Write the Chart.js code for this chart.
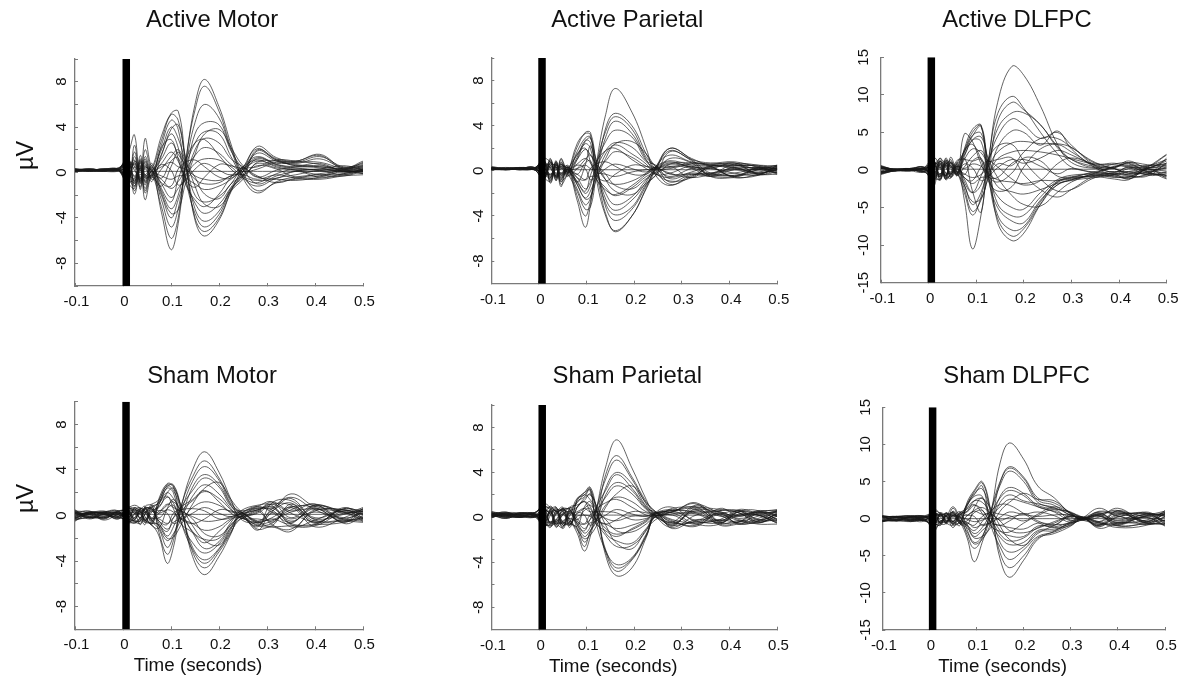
<!DOCTYPE html>
<html>
<head>
<meta charset="utf-8">
<title>TMS evoked potentials</title>
<script src="https://cdn.jsdelivr.net/npm/chart.js@4/dist/chart.umd.min.js"></script>
<style>
  html, body { margin: 0; padding: 0; background: #fff; overflow: hidden; }
  canvas { position: absolute; }
</style>
</head>
<body>
<script>
// Time points (seconds) per panel, denser where the waves turn
var activeMotorTimes = [-0.1,-0.07,-0.04,-0.01,.01,.024,.036,.046,.06,.08,.1,.115,.13,.15,.17,.2,.225,.25,.28,.32,.36,.41,.46,.5];
var activeParietalTimes = [-0.1,-0.07,-0.04,-0.01,.01,.024,.036,.046,.06,.08,.097,.108,.12,.14,.16,.195,.225,.245,.275,.32,.36,.41,.46,.5];
var activeDlpfcTimes = [-0.1,-0.07,-0.04,-0.01,.01,.024,.036,.046,.06,.075,.092,.11,.125,.145,.175,.2,.235,.27,.3,.35,.39,.42,.46,.5];
var shamMotorTimes = [-0.1,-0.07,-0.04,-0.01,.01,.024,.036,.046,.06,.075,.092,.105,.12,.145,.17,.2,.225,.245,.28,.31,.35,.4,.46,.5];
var shamParietalTimes = [-0.1,-0.07,-0.04,-0.01,.01,.024,.036,.05,.065,.08,.095,.107,.12,.14,.163,.195,.225,.245,.28,.33,.38,.42,.46,.5];
var shamDlpfcTimes = [-0.1,-0.07,-0.04,-0.01,.01,.024,.036,.05,.065,.08,.095,.112,.13,.15,.17,.2,.23,.265,.3,.325,.36,.4,.46,.5];

// One row per channel, in microvolts
var activeMotor = [
  [.2,.3,.2,.3,-.5,-1.2,.4,-1.4,.3,-3.5,-6.8,-4.5,.6,6,8.2,5.8,2.5,-.5,-1.8,-.8,-.4,-.2,-.1,.3],
  [.3,.2,.3,.2,-.8,-.6,.6,-2.4,-.3,-3,-5.8,-4,.9,5.5,7.6,5.4,2.2,-.1,-1.6,-.9,-.6,-.5,-.2,.2],
  [.1,.2,.1,.4,.6,-1.6,.2,-1.6,.1,-2.4,-4.8,-3.2,.4,4.4,6,4.8,2,-.4,-1.2,-.5,-.2,.2,.2,.4],
  [.2,.2,.2,.3,.9,-.4,.8,-.9,-.2,-2,-4,-2.4,-.3,3.4,4.4,4.2,1.9,.3,-1,-.3,.1,.3,.1,.1],
  [.3,.3,.2,.2,-.3,.9,-.5,.4,.2,-1.6,-3.2,-2,.5,2.6,3.6,3.4,1.4,-.3,-.7,-.6,-.7,-.4,.1,-.1],
  [.2,.1,.2,.3,1.2,-1,1,-.8,.1,-1,-2.2,-1.4,-.5,2,3,2.6,1.2,.5,-.4,.2,.5,.6,.3,.5],
  [.1,.2,.3,.2,-.6,.5,-.2,.7,-.1,-.6,-1.4,-.8,.2,1.5,2.2,1.7,.7,.1,.3,.9,.6,.4,0,.2],
  [.2,.2,.1,.1,.4,-.7,.3,-.3,0,-.3,-.6,-.3,-.2,.8,1.2,1.1,.5,-.2,.8,.4,.2,.1,.2,0],
  [.1,.2,.2,.2,.1,.1,0,.1,.1,.1,.1,.1,.1,.1,.1,.1,.1,.1,.1,.1,.1,.1,.1,.1],
  [.2,.1,.2,.3,-.4,.8,-.4,.5,.1,.5,.9,.5,.3,-.3,-.6,-.7,-.3,.1,1.2,.7,.5,.5,.2,.3],
  [.3,.2,.1,.2,.7,-.3,.6,-.5,-.1,.8,1.8,1,-.4,-1,-1.5,-1.2,-.6,.3,1.3,.8,.9,.9,.3,.1],
  [.2,.3,.2,.2,-.7,1.4,-.6,1,.2,1.2,2.6,1.6,.6,-2,-2.6,-2.1,-1,.5,1.4,.7,.4,.2,-.2,.2],
  [.1,.2,.2,.4,1,-.8,1.2,-.4,-.2,1.6,3.4,2.2,-.6,-2.7,-3.6,-2.8,-1.3,.1,1.7,1,.7,.5,.3,.5],
  [.2,.2,.3,.2,-1,1.8,-.8,1.4,.2,2,4,3,.8,-3.2,-4.3,-3.4,-1.4,-.4,1.9,1.1,.8,1.2,.4,.6],
  [.3,.2,.2,.3,1.4,-1.2,1.5,-.2,-.3,2.4,4.6,3.8,-.4,-3.6,-4.8,-3.7,-1.5,-.2,2,1.2,.9,1.4,.5,.8],
  [.2,.1,.2,.2,-1.2,2.4,-1,2,.4,2.8,5.1,4.6,1,-4,-5.2,-4,-1.6,.4,2.1,1.1,1,1.5,.3,.9],
  [.1,.2,.3,.3,1.6,3.3,-1.5,3,.6,3.2,5.2,5.4,1.2,-4.2,-5.6,-4.2,-1.7,.1,2.3,1.3,1,1.6,.4,1],
  [.2,.3,.2,.2,.3,-1.9,.5,-1.8,-.4,-1.2,.5,1.8,.5,-.6,-1,-.9,-.3,-.2,-.6,-.2,-.5,-.6,-.3,-.2],
  [.3,.2,.2,.2,.9,.5,-1.3,.6,-.8,1.5,3.8,4.2,1.4,-1.2,-2.8,-3,-1.6,-.6,.9,1,.6,.8,.1,.2],
  [.2,.2,.3,.3,-.9,-1.4,.9,-1.1,.6,-1.8,-3.6,-3.3,-1,1.6,3.4,3.8,2.2,.6,-.3,-.9,-.5,-.3,.3,.6],
  [.1,.3,.2,.2,.5,1.1,-.9,1.2,-.5,2.2,2.9,1.2,-1,-2.4,-3,-1.9,-.4,.5,1.1,.5,.2,-.2,-.3,.1],
  [.2,.2,.1,.3,-.4,-.9,1.1,-.7,.8,-1.4,-2.6,-.6,1.1,2.6,2.9,1.5,.3,-.5,-.9,-.1,.3,.2,.4,.7],
  [.3,.1,.2,.2,1.1,.2,-.6,.9,-.6,.3,1.4,2,.9,-.4,-1.9,-2.3,-1,-.3,.6,.3,-.4,-.1,.1,-.1],
  [.2,.2,.2,.1,-.2,-.5,.4,-.2,.5,-.9,-1.2,.3,.9,1.1,.5,-.4,-.5,.3,.5,1.1,1,.7,.2,.4],
  [.1,.2,.3,.3,.6,.7,-.7,.3,-.3,.7,.2,-1.1,-.7,.3,.8,.2,-.2,.4,-.4,-.5,.1,-.4,-.1,.3],
  [.2,.3,.2,.2,-.5,1,.2,-.4,.4,-.5,1,1.3,-.6,-1.3,-.4,.7,.6,.4,1,.6,.3,.3,.6,.2]
];
var activeParietal = [
  [.2,.2,.2,.2,.5,-.6,.5,-.6,.1,-2.6,-5,-3,.5,5,7.3,5.2,2,-.4,-1.3,-.4,-.2,.2,.3,.2],
  [.3,.1,.2,.3,-.4,.6,-.3,.7,-.2,-1.8,-3.4,-3.2,-.5,3.8,5.1,4,1.5,.1,-1.2,-.5,.3,.3,-.2,.1],
  [.1,.2,.1,.2,.9,-1,.4,-1,.1,-1.6,-3,-2.4,.4,3.5,4.8,3.7,1.2,.4,-1,-.3,-.4,-.4,.1,.4],
  [.2,.2,.2,.1,-.7,1,-.6,.5,.2,-1.2,-2.4,-1.8,-.3,3,4.4,3.3,1,-.2,-.9,-.6,.5,.5,.4,-.2],
  [.4,.2,.3,.2,.6,-.5,.8,-.7,-.1,-.9,-2,-1.3,.6,2.6,3.6,3,.9,.5,-.7,-.2,-.3,.1,-.3,.3],
  [.1,.1,.2,.3,-.5,.3,-.4,.4,.2,-.6,-1.6,-1,.2,1.8,2.5,2.1,.8,.2,-.5,.2,.3,-.5,.2,-.3],
  [.2,.3,.2,.2,.3,-.8,.3,-.3,0,-.3,-.8,-.5,-.4,1.5,2.3,1.5,.6,-.3,-.2,.4,-.2,.6,.5,.1],
  [.2,.2,.1,.2,-.3,.4,-.2,.2,.1,.2,.5,.2,.1,.9,1.7,1.2,.4,.1,.2,.6,.5,.2,-.1,.4],
  [.1,.2,.2,.1,.1,.1,.1,.1,.1,.1,.1,.1,.1,.1,.1,.1,.1,.1,.1,.1,.1,.1,.1,.1],
  [.3,.2,.2,.2,.2,-.3,.1,-.2,0,.6,1.1,.7,-.1,-.3,-.5,-.1,.1,.2,.6,.3,-.3,-.2,.2,0],
  [.1,.2,.2,.1,-.6,.7,-.5,.6,-.1,1,1.9,1.4,.5,-.8,-1.2,-.9,-.2,.4,.9,.5,.4,-.6,-.3,.2],
  [.2,.1,.3,.3,.7,-.4,.6,-.4,.2,1.4,2.4,2,-.4,-1.5,-2.2,-1.5,-.5,-.1,1.1,.7,-.4,.4,.4,-.1],
  [.3,.2,.2,.2,-.8,.9,-.7,1,-.1,1.7,2.9,3,.6,-2.5,-3.5,-2.6,-1,.4,1.4,.8,.6,.7,.1,.3],
  [.2,.2,.1,.2,1,-1.1,.7,-1.4,.3,-1,.5,2.2,.3,-2.9,-3.9,-3.2,-1.2,-.4,1.7,.9,-.5,-.6,-.4,.5],
  [.1,.3,.2,.3,-.4,1.1,-.9,1.1,.1,2.1,3.4,3.4,.8,-3.2,-4.4,-3.4,-1.3,.2,1.8,1,.7,.8,.3,-.2],
  [.2,.2,.2,.2,1.1,.8,.3,-.9,-.2,2.4,3.3,3.2,-.6,-4,-5.3,-4,-1.5,.3,2,1.1,.5,.5,.5,.4],
  [.3,.1,.2,.1,-.7,.5,.5,.3,.4,-2.2,-4,-2.7,-.7,-3.8,-5.4,-4,-1.6,.1,2,1,-.2,-.4,-.2,.1],
  [.2,.2,.3,.2,.4,-.7,.9,-1.2,-.3,1.2,2.7,2.5,.2,-2,-3,-2.3,-.8,.1,.4,-.6,.4,.3,-.3,-.3],
  [.3,.2,.2,.2,.6,.3,-.8,.4,-.5,1,2.6,2.9,1,-.8,-1.8,-2.1,-1.1,-.4,.6,.7,.4,-.5,.1,.2],
  [.2,.2,.2,.3,-.6,-.9,.6,-.8,.4,-1.2,-2.5,-2.3,-.8,1.1,2.4,2.6,1.5,.4,-.2,-.6,-.3,.3,.3,.5],
  [.1,.2,.2,.2,.3,.8,-.6,.8,-.3,1.5,2,.8,-.7,-1.7,-2.1,-1.3,-.3,.3,.8,.3,.2,-.2,-.4,.1],
  [.2,.2,.1,.2,-.3,-.6,.8,-.5,.5,-1,-1.8,-.4,.8,1.8,2,1,.2,-.3,-.6,-.1,.4,.5,.2,.5],
  [.3,.1,.2,.2,.8,.2,-.4,.6,-.4,.2,1,1.4,.6,-.3,-1.3,-1.6,-.7,-.2,.4,.2,-.5,.1,.1,-.2],
  [.2,.2,.2,.1,-.2,-.3,.3,-.2,.3,-.6,-.8,.2,.6,.8,.4,-.3,-.3,.2,.3,.7,.6,.6,-.2,.3],
  [.1,.2,.3,.2,.4,.5,-.5,.2,-.2,.5,.2,-.8,-.5,.2,.6,.2,-.1,.3,-.3,-.3,-.5,-.5,.3,.2],
  [.2,.2,.2,.2,-.3,.7,.2,-.3,.3,-.3,.7,.9,-.4,-.9,-.3,.5,.4,.3,.7,.4,.2,.7,-.3,-.1]
];
var activeDlpfc = [
  [.5,0,.2,.2,.8,-.6,1,-.9,.2,-4,-10.5,-6,.8,9,13.8,12.6,8.5,3.5,1,.2,.3,.9,-.3,-.9],
  [-.4,-.1,.1,.4,-.8,1.2,-.8,.9,-.3,-3,-6,-3.6,1.2,7.5,9.8,8.2,5,2.2,.4,-.3,-.5,-.5,.2,1.2],
  [.4,.1,-.1,-.2,1.2,-1,1.4,-.5,.4,-2.5,-5.5,-4,-.7,6.5,9,8,6,3.2,1.4,.3,.8,1,.5,2],
  [-.5,0,.2,.3,-1.4,.8,-1.2,1.7,-.4,-2,-4.6,-3,.6,5.5,7.6,7.6,6,3,1.4,.4,-.3,.4,-.4,-.7],
  [.3,-.1,0,.1,.6,1.5,.6,-1,.5,-1.2,-3,-2,1,4.5,6.8,6,4.2,5,3.3,.6,.4,1.2,.3,1.4],
  [-.3,.1,.1,-.3,-.7,-1.3,.9,.4,-.2,-1,-1.8,-1,-.8,3,5.2,5,3.3,5.2,2.8,.3,-.6,-.2,-.6,-.3],
  [.2,0,-.1,.3,1.7,.5,-.7,1,.2,-.5,-1,-.6,.5,2.4,3.6,3.8,3.5,3.5,3,.9,.9,.6,.6,.8],
  [-.2,-.1,.2,-.2,-1,.9,-1.1,-.7,.5,.2,.8,.5,-.3,1.5,2.4,2.6,2.4,2,1.5,.7,.2,-.7,-.2,.4],
  [.1,.1,0,.1,.1,.1,.1,.1,.1,.1,.1,.1,.1,.1,.1,.1,.1,.1,.1,.1,.1,.1,.1,0],
  [.4,.1,.1,.2,.5,-.8,1.6,.3,-.5,4.8,3.8,.8,-.9,-1,.9,1.4,.5,-.5,.2,-.3,.5,.4,-.1,-.4],
  [-.6,-.1,-.1,.1,-.6,1.6,-.4,-.3,1.3,1.4,1.2,1.4,-.4,-1.3,-1.6,-1.8,-1.4,-1.4,-1,-.4,-.8,-1.1,-.5,.8],
  [.5,.1,.2,-.3,1,-.9,.7,1.2,-.3,1.4,2.8,2.3,.6,-2.2,-2.9,-3.2,-2.6,-1.8,-1.3,-.5,-.2,-.2,.2,-.8],
  [-.3,0,0,.4,-1.6,.4,-1,-.6,.8,2,4,3.8,-.8,-3.5,-5,-5.2,-3,-1.3,-.7,-.6,-1,-.9,-.6,1.6],
  [.3,-.1,.1,-.1,1.3,-1.2,.5,.6,-.7,2.3,4.6,4.9,1,-4.5,-6.1,-6,-3.6,-1.5,-1,-.8,-.6,-1.2,.1,-1.1],
  [-.4,.1,.2,.2,-2.2,1.1,-.6,-1.1,.3,2.6,5,5.9,-1,-5,-6.8,-7,-4,-2,-1.3,-.7,-.5,-.8,-.8,1],
  [.6,0,-.1,.3,.9,-1.4,1.2,.8,-.4,2.8,5.4,6,.4,-6,-8,-7.5,-4.2,-1.7,-1.2,-.9,-1.2,-1.3,.2,.2],
  [-.5,-.1,.1,-.2,-1.2,.7,-1.3,-.5,1,2.4,4.5,5.8,-.5,-6.5,-8.8,-7.8,-4.5,-1.6,-1.1,-.7,-.4,-.6,-.3,-1.2],
  [.2,.1,0,.1,.7,-.5,.8,1,-.6,1.6,-2.8,-5.6,1.3,-7,-9.4,-8.4,-4.6,-2,-1.4,-1,-.7,-.9,.4,2.1],
  [.3,-.1,.1,.1,.9,.4,-1.2,.6,-.8,1.8,4,4.4,1.6,-1,-3.4,-4.6,-4.8,-3,-1.6,-.4,.4,.8,-.2,.3],
  [-.2,.1,0,.2,-1,-1.2,1,-.9,.7,-2,-4.2,-3.8,-1.2,.8,.6,2.4,4.2,4.2,3,1,.2,-.4,.3,.9],
  [.4,0,.1,-.2,.5,1.2,-.8,1.4,-.5,2.6,3.4,1.4,-1.4,-2.8,-2.2,.4,2.8,3.4,2.4,.5,-.3,.3,-.7,-.5],
  [-.4,-.1,.2,.1,-.5,-.8,1.3,-.7,1,-1.6,-3,-.8,1.4,3.2,3.4,1.2,-1.2,-2.8,-2.6,-1,-.6,.2,.5,1.4],
  [.3,.1,-.1,.3,1.1,.2,-.7,1,-.7,.4,1.8,2.6,1.2,1.4,1.6,-.6,-2.6,-3.6,-2.6,-.8,-.9,-1,.1,-.2],
  [-.2,0,.1,-.1,-.3,-.6,.6,-.3,.7,-1,-1.4,.4,1.2,.4,-1.2,-2,-1.4,.8,1.6,.8,.7,.5,.3,.6],
  [.2,-.1,.2,.2,.7,.9,-.9,.4,-.4,.8,.3,-1.4,-.9,.3,1.4,.9,1.6,2.6,2,.6,.2,-.4,-.5,-.7],
  [-.3,.1,0,.1,-.6,1.2,.3,-.5,.5,-.6,1.2,1.6,-.8,-1.6,-.4,1.6,1.2,-.8,-.9,-.2,.3,1,.7,.5]
];
var shamMotor = [
  [.3,-.1,.2,.1,.5,.7,.4,-.4,-.8,-1.8,-4.2,-2.8,.5,4,5.6,3.8,1.4,-.3,-.6,.3,1.9,.8,.5,.1],
  [-.3,.2,-.2,.3,-.2,-.5,-.5,.1,.9,-1.5,-3.4,-2.2,.7,3.4,4.8,3.3,1.2,.1,-.9,.6,1.6,.5,-.3,.4],
  [.4,.3,.1,-.2,.7,.2,.2,.6,-.5,-1.2,-2.8,-1.8,.2,3,4.3,3.1,1,.3,-1,1.1,1.3,-.2,.4,-.3],
  [-.4,-.1,.3,.2,-.4,.2,.6,.5,.6,-1,-2.2,-1.6,-.4,2.5,3.6,2.7,.9,0,.4,1,.9,-.6,.6,.3],
  [.2,.1,-.3,.4,.3,-.5,-.3,-.6,-.7,-.8,-1.8,-1,.6,2.2,3.3,2.5,.8,.4,.8,1.2,-.2,.9,-.4,-.2],
  [0,.3,.2,-.1,.6,.5,.3,-.4,.4,-.5,-1.2,-.6,-.2,1.7,2.7,1.9,.6,-.2,-.3,-.4,.5,1,.2,.5],
  [.5,-.2,.1,.3,-.5,-.2,.6,.4,-.2,-.3,-.7,-.2,.4,1.3,2.1,1.5,.5,-.1,.5,.7,-.7,-.8,-.6,0],
  [-.2,.2,.4,0,.2,.6,-.2,.7,.5,.2,.5,.3,-.3,.7,1.2,.9,.3,.3,-.7,-.5,.3,.6,.3,.2],
  [.1,.1,.1,.1,.1,.1,.1,.1,.1,.1,.1,.1,.1,.1,.1,.1,.1,.1,.1,.1,.1,.1,.1,.1],
  [.3,0,-.2,.2,-.3,-.4,.5,-.5,.9,.4,1,.7,.4,-.1,-.5,-.4,-.1,.1,.6,.5,-1,-.4,.5,-.3],
  [-.5,.2,.2,-.3,.4,.3,.1,-.6,.3,.8,1.6,1.1,-.2,-.7,-1.3,-1,-.3,-.2,-.8,-.7,.7,.7,-.5,.6],
  [.2,-.2,.3,.4,-.6,-.6,-.7,-.2,-.8,1,2,1.5,.5,-1.4,-2.1,-2,-.6,.4,.9,.9,-.8,-.9,.2,-.4],
  [-.1,.3,-.1,.1,.8,.4,-.2,.6,.7,1.2,2.4,2,-.5,-2.4,-3.3,-2.5,-1,-.1,-1.2,-1,-1.4,.5,-.2,.2],
  [.4,.1,.2,-.2,-.2,.5,.7,.2,-.3,1.3,2.6,2.2,.6,-2.8,-3.9,-2.9,-1.2,.2,-.5,.4,1.1,-.5,.4,.5],
  [-.3,-.2,0,.3,.5,-.4,-.5,.8,1,1.4,2.7,2.5,-.4,-3,-4.2,-3,-1.4,-.3,.3,1.2,.4,1,-.7,-.1],
  [.1,.2,.3,.1,-.7,.1,.4,-.4,-.6,1.5,2.8,2.6,.8,-3.2,-4.6,-3.2,-1.5,-.1,-.9,-1,-.9,-.8,.6,.3],
  [.3,-.1,-.2,.2,.2,.2,-.8,.2,.8,1.1,2.5,2.7,.9,-3.6,-5.2,-3.6,-1.6,.1,-1.3,.2,-.3,.3,-.3,-.5],
  [-.2,.3,.1,-.1,.6,.9,.6,-.1,-.9,-1.1,.6,1.4,.3,-1.5,-2.9,-2.3,-.8,-.1,.6,-.6,.8,-.3,.1,.7],
  [.2,.4,-.3,.3,-.4,-.7,-.2,.3,.5,.7,2,2.4,1,-.9,-2.2,-2.6,-1.1,-.3,.2,.8,-.5,.6,-.6,.4],
  [-.4,.1,.3,-.2,.5,-.3,.5,.8,-.4,-.9,-2,-1.9,-.9,1,2.4,2.9,1.4,.4,-.5,-.9,1,-.7,.7,-.2],
  [.3,-.3,.2,.4,-.6,.7,.2,.7,-.7,1,1.7,.6,-.7,-1.5,-2.4,-1.4,-.4,.2,.8,.3,-.6,.8,.3,-.5],
  [-.1,.2,-.4,.1,.3,-.6,-.4,-.8,.7,-.7,-1.4,-.2,.7,1.4,2.2,1.2,.2,-.2,-.6,-.2,.7,-1,-.2,.6],
  [.4,-.2,.1,-.3,.6,.4,.6,.4,-.3,.2,.9,1.2,.5,-.3,-1.6,-1.8,-.8,-.1,.4,-.8,-1.2,.4,.5,.1],
  [-.3,.3,.2,.2,-.5,-.4,.3,-.5,.4,-.5,-.8,.2,.5,.6,.4,-.3,-.2,.2,.7,.6,1.5,-.4,-.4,-.3],
  [.2,-.2,-.1,.4,.4,-.2,.4,.3,-.5,.4,.2,-.7,-.4,.2,.7,.2,-.1,.3,-.6,-.3,-.7,.9,.3,.4],
  [-.2,.1,.3,-.1,-.3,.6,-.3,.6,.6,-.2,.6,.9,-.3,-.7,-.3,.5,.4,.2,.5,1,.2,-.6,-.5,-.6]
];
var shamParietal = [
  [.2,.5,0,.3,1.2,.8,-.6,.4,-.3,-1.4,-3,-1.8,.6,4.5,6.9,4.4,1.6,.1,-.9,.2,.5,-.1,.3,.5],
  [.4,.1,.4,.1,-.6,-.7,-.2,-.8,.5,-1,-2.6,-1.3,-.2,3.8,5.5,3.6,1.4,.5,-.6,.7,-.3,.6,-.2,-.3],
  [0,.3,.2,.4,.9,.8,.6,.9,-.5,-.9,-2.2,-1.4,.7,3.4,5.1,3.4,1.2,.1,-.4,1.1,.4,.2,.5,.2],
  [.3,-.1,.3,.2,-.4,-.9,.4,.7,.7,-.6,-1.7,-1.2,-.4,2.6,4,3,1,.4,.5,1.3,-.4,-.4,.1,.6],
  [.1,.4,.1,0,.6,.3,-.8,-.3,-.1,-.5,-1.4,-.9,.8,2.4,3.8,2.6,.9,.1,.8,.9,.7,.4,-.4,-.1],
  [.5,.2,0,.3,-.7,.5,.6,-1,.4,-.3,-1,-.5,-.3,2,3.1,2.4,.8,.5,-.2,-.5,-.2,.7,.4,.4],
  [.2,0,.4,.2,.3,-.5,-.4,.2,.9,-.1,-.6,-.2,.5,1.8,2.8,2.1,.7,.2,.3,.4,.3,-.3,-.5,.1],
  [0,.3,.3,.4,-.2,.7,.9,-.5,-.6,.1,.2,.1,-.2,1.1,1.8,1.4,.5,.4,.6,-.3,-.5,.2,.2,-.4],
  [.2,.2,.2,.2,.2,.2,.2,.2,.2,.2,.2,.2,.2,.2,.2,.2,.2,.2,.2,.2,.2,.2,.2,.2],
  [.3,.1,.1,.1,.5,1,.5,.7,.3,.5,.8,.5,.5,-.1,-.3,.1,.1,.2,-.5,.6,.5,-.2,-.3,.3],
  [.4,.4,.2,.3,-.5,.6,-.5,-.4,-.7,.9,1.4,1,-.2,-.6,-1,-.7,-.2,.4,.4,-.6,-.6,.5,.6,-.2],
  [.1,.2,.3,0,.8,-.6,.3,.8,.8,1.3,2,1.6,.7,-1.4,-2.1,-2.3,-1,0,-.7,.8,.2,-.5,-.1,.5],
  [.2,.1,0,.4,-.9,.2,.9,-.7,.2,1.5,2.2,2.4,-.3,-1.6,-2.6,-2.5,-1.2,.4,-1,-.2,-.4,.3,.2,-.5],
  [.3,.3,.2,.1,.4,.9,.5,.6,-.9,1.6,2.2,2.7,.9,-2.9,-4.2,-3.6,-1.5,.1,.6,.5,.6,.6,-.4,.1],
  [0,.4,.4,.3,-.3,-.8,-.2,.6,.5,1.7,2,2.6,-.5,-3,-4.5,-3.7,-1.6,.4,.9,-.4,-.2,-.4,.5,.6],
  [.4,0,.1,.2,.7,.4,.8,-.4,-.4,1.4,1.8,2.5,.6,-3.1,-4.8,-3.8,-1.7,.1,-.8,1,.1,.1,.3,-.3],
  [.1,.2,.3,.1,-.8,-.4,-.6,-.9,.9,1.1,1.5,2.1,1,-3.4,-5.2,-4.5,-1.8,.3,.4,.3,-.5,.5,-.2,.2],
  [.3,.3,0,.4,1,.6,-.7,.8,-.2,-.8,.9,1.4,.2,-1,-1.5,-1.1,-.4,.2,-.4,-.7,.4,-.6,.4,.7],
  [.2,-.1,.3,.2,-.6,.5,-.9,.3,.6,.9,1.7,2,1.1,-.7,-2.3,-2.8,-1.1,-.2,.5,.9,-.6,-.4,.6,.1],
  [.5,.3,.1,.1,.7,-.5,.6,-.7,-.5,-1.1,-1.9,-1.6,-.8,.9,2.1,2.8,1.3,.5,-.3,-.8,.6,.4,-.5,.4],
  [.1,.1,.4,.3,-.5,.7,.3,.8,-.7,.9,1.4,.5,-.6,-1.2,-1.7,-1,-.3,.4,.7,.4,-.3,.5,.2,-.5],
  [.3,.4,.2,0,.4,-.7,-.5,-.5,.6,-.7,-1.2,-.2,.7,1.3,1.6,.9,.2,0,-.7,-.3,.3,-.6,-.3,.6],
  [.2,.2,.1,.4,.8,.3,.7,.5,-.4,.3,.8,1.1,.5,-.2,-1.2,-1.3,-.6,.1,.2,-.6,.8,.1,.5,-.2],
  [.4,0,.3,.2,-.6,-.6,.5,-.6,.5,-.4,-.6,.2,.5,.5,.4,-.2,-.1,.3,.6,.7,-.7,-.6,-.4,.3],
  [.1,.3,.2,.1,.5,.5,-.4,.3,-.6,.4,.2,-.7,-.3,.2,.7,.3,.1,.4,-.5,-.4,.3,.6,.4,.5],
  [.3,.2,0,.3,-.4,-.4,-.3,.6,.7,-.2,.6,.8,-.2,-.6,-.2,.5,.4,.2,.5,1.2,-.5,-.3,-.6,-.6]
];
var shamDlpfc = [
  [.4,-.3,.3,-.2,1,.6,-.7,.5,-.5,-2.6,-5.8,-3.2,.6,7.5,10.2,8,4.4,2.8,.6,.1,.6,-.3,.6,.4],
  [-.3,.3,-.3,.3,-.8,.5,.4,-1.2,.3,-2.2,-4,-2.6,1,5,7,5.6,2.8,2.1,.8,-.1,.2,1.4,-.4,1.1],
  [.3,-.2,.2,.2,.4,-.7,-.6,1.4,-.3,-1.8,-3.4,-2.8,-.6,4.8,6.8,5.4,2.5,1.8,.4,.2,-.6,-.8,.2,-.9],
  [-.4,.2,-.2,-.3,1.2,.6,-.3,.3,.9,-1.5,-3.2,-2.4,.8,4.5,6.4,5,2.2,1.5,.5,0,1,.7,.7,.3],
  [.2,.3,.4,.3,-.6,-.9,.5,-.6,-.2,-1,-2.4,-1.6,-.4,3,4.2,3.4,1.8,1.3,.9,.1,.5,1.1,-.6,-.6],
  [-.2,-.3,-.1,-.2,.7,.3,.8,.2,.6,-.8,-2,-1.2,.7,2.8,3.8,3.1,1.6,1,.2,-.2,-.7,-.5,.3,.8],
  [.4,.2,.2,.3,-.5,-.4,.4,.8,-.4,-.5,-1.2,-.8,-.5,2.2,3.2,2.4,2,1.4,.8,.2,.9,.4,-.8,-.2],
  [-.3,-.2,-.4,.1,.3,.6,.2,-.5,.2,-.1,-.4,-.2,.4,1.6,2.6,2.2,1.6,.9,-.3,.1,-.4,-.9,.4,.5],
  [0,0,0,0,0,0,0,0,0,0,0,0,0,0,0,0,0,0,0,0,0,0,0,0],
  [.1,.3,.3,-.3,-.9,-.5,-.5,.4,-.6,.4,1,.6,.6,-.2,.2,.5,.3,.5,.5,-.1,.7,-.2,.9,-.4],
  [-.4,-.1,-.2,.2,.6,.4,.7,-.3,.7,.9,1.8,1.2,-.5,-.9,-1.2,-1.4,-.6,-.8,-.6,.1,-.9,.6,-.3,.6],
  [.3,.2,.1,-.1,-1.6,-.3,-.4,1,.1,1.4,2.4,2.2,.7,-1.6,-2.3,-2.4,-1,-1.1,-.5,-.2,.4,-1,-.7,-.8],
  [-.2,-.3,.2,.3,.5,.8,.3,-.7,-.4,1.7,3,3,-.6,-2.5,-3.5,-3.2,-1.6,-1.4,-.9,0,-1.1,.3,.5,1],
  [.4,.1,-.4,-.2,-1.2,-.6,.6,.4,.5,1.9,3.4,4,.9,-3.2,-4.5,-3.8,-1.8,-1.6,-.4,.2,-.5,-1.2,-.9,.3],
  [-.3,-.2,.3,.4,.8,.2,-.6,-.9,-.5,1.8,3.2,4.4,-.8,-3.8,-5.5,-4.2,-2.4,-1.8,-.8,-.1,.6,.9,.2,-1],
  [.2,.3,-.1,-.3,-.7,-.8,.5,.6,.3,2,3.6,4.8,.9,-4.6,-6.6,-5,-2.6,-2,-1,.1,-1.3,-.6,-.5,.7],
  [-.4,-.1,.1,.2,.4,.5,-.2,-.4,-.9,2.2,3.8,5,1.2,-5.4,-7.9,-5.6,-2.8,-1.7,-.6,0,-.8,.2,.8,-.7],
  [.3,.2,.4,-.2,-.4,-.3,.3,1.6,.2,-.8,1.4,2.8,.2,-2.1,-3,-2.6,-1.2,-.6,.4,-.2,.3,-.5,-.2,.9],
  [-.2,.3,-.2,.1,.7,-.6,.4,-.8,.6,1,2.4,2.7,1.4,-1,-2.8,-3.6,-2,-.9,.3,.1,-.5,.8,-.5,.2],
  [.3,-.1,.3,.3,-.6,.8,-.4,.9,-.7,-1.2,-2.6,-2.4,-1.2,1,2.2,3.4,2.6,2.4,.7,-.1,.8,-.6,.6,-.5],
  [-.4,.2,.1,-.2,.4,-.7,.8,-.4,.8,1.3,1.9,.7,-1,-1.7,-1.8,-.6,.4,1.2,-.2,.2,-.4,1,-.6,.7],
  [.2,-.3,-.2,.2,-.5,.6,-.6,.7,-.5,-.9,-1.6,-.4,1,1.9,1.8,.7,-.5,-1.2,-.7,-.1,.5,-.7,.4,-.3],
  [-.3,.1,.3,.3,.9,-.3,.3,-.7,.5,.4,1.1,1.5,.7,-.3,-1.6,-1.9,-1.3,-.4,.3,.2,-1,.5,.7,.5],
  [.3,.2,-.3,-.1,-.4,.4,-.5,.5,-.7,-.6,-.9,.3,.8,.6,.4,-.3,.6,1.6,.7,-.2,.4,-.9,-.7,-.6],
  [-.2,-.2,.2,.2,.6,-.5,.7,-.4,.9,.5,.3,-.9,-.5,.2,.9,.6,.9,.4,-.5,.1,1.4,.3,.2,.8],
  [.2,.3,.1,-.3,-.7,.7,-.3,.9,-.3,-.3,.8,1.1,-.4,-.9,-.3,.7,-.3,-.9,.6,.2,-.9,1.1,-.4,-.2]
];

// Tick labels
var xTicks = [-0.1, 0, 0.1, 0.2, 0.3, 0.4, 0.5];
var motorParietalLabels = [-8, -4, 0, 4, 8];
var dlpfcLabels = [-15, -10, -5, 0, 5, 10, 15];

// Where each panel sits on the page: box is the canvas, plot the axes area
var panels = [
  { title: 'Active Motor', times: activeMotorTimes, rows: activeMotor, stimAt: 0.0068, yMax: 10, yStep: 2, labels: motorParietalLabels, yName: true, xName: false,
    box: { left: 0, top: 0, width: 424, height: 340 }, plot: { left: 75, right: 363, top: 59, bottom: 286 } },
  { title: 'Active Parietal', times: activeParietalTimes, rows: activeParietal, stimAt: 0.0064, yMax: 10, yStep: 2, labels: motorParietalLabels, yName: false, xName: false,
    box: { left: 430, top: 0, width: 394, height: 340 }, plot: { left: 491.3, right: 777.3, top: 58, bottom: 283.7 } },
  { title: 'Active DLFPC', times: activeDlpfcTimes, rows: activeDlpfc, stimAt: 0.0057, yMax: 15, yStep: 5, labels: dlpfcLabels, yName: false, xName: false,
    box: { left: 840, top: 0, width: 354, height: 340 }, plot: { left: 881, right: 1166.7, top: 57.3, bottom: 282.7 } },
  { title: 'Sham Motor', times: shamMotorTimes, rows: shamMotor, stimAt: 0.0063, yMax: 10, yStep: 2, labels: motorParietalLabels, yName: true, xName: true,
    box: { left: 0, top: 350, width: 425, height: 326 }, plot: { left: 75, right: 363, top: 401.7, bottom: 629.3 } },
  { title: 'Sham Parietal', times: shamParietalTimes, rows: shamParietal, stimAt: 0.0066, yMax: 10, yStep: 2, labels: motorParietalLabels, yName: false, xName: true,
    box: { left: 430, top: 350, width: 395, height: 326 }, plot: { left: 491.5, right: 777, top: 405, bottom: 629.7 } },
  { title: 'Sham DLPFC', times: shamDlpfcTimes, rows: shamDlpfc, stimAt: 0.0068, yMax: 15, yStep: 5, labels: dlpfcLabels, yName: false, xName: true,
    box: { left: 840, top: 350, width: 354, height: 326 }, plot: { left: 882.3, right: 1165, top: 407.3, bottom: 630 } }
];

var FONT = '"Liberation Sans", Arial, sans-serif';
var AXIS_GREY = '#7a7a7a';
var TITLE_SIZE = 23.8;
var TITLE_LINE = TITLE_SIZE * 1.2;
var AXIS_WIDTH = 14; // titles centre over the y axis box + plot, 7px left of the plot middle

// µV and the time label sit off the middle of the axes, so the scale titles can't do them
var offsetLabels = {
  id: 'offsetLabels',
  // the narrow y box would clip its labels, so open it up once layout is done
  afterLayout: function (chart) {
    chart.scales.y.left = 0;
  },
  afterDraw: function (chart, args, opts) {
    var ctx = chart.ctx;
    var area = chart.chartArea;
    ctx.save();
    ctx.fillStyle = '#111';
    ctx.textAlign = 'center';
    ctx.textBaseline = 'middle';
    if (opts.yName) {
      ctx.font = '23.5px ' + FONT;
      ctx.translate(27, (area.top + area.bottom) / 2 - 17);
      ctx.rotate(-Math.PI / 2);
      ctx.fillText('µV', 0, 0);
      ctx.setTransform(1, 0, 0, 1, 0, 0);
    }
    if (opts.xName) {
      ctx.font = '18.8px ' + FONT;
      ctx.fillText('Time (seconds)', (area.left + area.right) / 2 - 21, area.bottom + 37);
    }
    ctx.restore();
  }
};

panels.forEach(function (p) {
  var canvas = document.createElement('canvas');
  canvas.width = p.box.width;
  canvas.height = p.box.height;
  canvas.style.left = p.box.left + 'px';
  canvas.style.top = p.box.top + 'px';
  document.body.appendChild(canvas);

  var axisHeight = p.box.top + p.box.height - p.plot.bottom;
  var titleTop = p.box.top === 0 ? 6.6 : 12.4;
  var titleBottom = p.plot.top - p.box.top - titleTop - TITLE_LINE;

  var datasets = p.rows.map(function (row, i) {
    return {
      label: 'Channel ' + (i + 1),
      data: row,
      borderColor: 'rgba(25,25,25,0.85)',
      borderWidth: 0.8,
      tension: 0.4,
      pointRadius: 0
    };
  });
  // TMS pulse marker, drawn on top of the channels
  datasets.push({
    label: 'Pulse',
    data: [{ x: p.stimAt, y: -p.yMax }, { x: p.stimAt, y: p.yMax }],
    borderColor: '#000',
    borderWidth: 7.5,
    borderCapStyle: 'butt',
    pointRadius: 0,
    order: -1
  });

  new Chart(canvas, {
    type: 'line',
    data: { labels: p.times, datasets: datasets },
    plugins: [offsetLabels],
    options: {
      responsive: false,
      animation: false,
      events: [],
      layout: { padding: { left: p.plot.left - p.box.left - AXIS_WIDTH, top: 0, bottom: 0, right: p.box.left + p.box.width - p.plot.right } },
      plugins: {
        legend: { display: false },
        tooltip: { enabled: false },
        title: {
          display: true,
          text: p.title,
          color: '#111',
          font: { family: FONT, size: TITLE_SIZE, weight: 'normal', lineHeight: 1.2 },
          padding: { top: titleTop, bottom: titleBottom }
        },
        offsetLabels: { yName: p.yName, xName: p.xName }
      },
      scales: {
        x: {
          type: 'linear',
          min: -0.1,
          max: 0.5,
          afterFit: function (s) { s.height = axisHeight; },
          afterBuildTicks: function (s) { s.ticks = xTicks.map(function (v) { return { value: v }; }); },
          border: { color: AXIS_GREY, width: 1.3 },
          grid: { drawOnChartArea: false, color: AXIS_GREY, tickLength: -3 },
          ticks: {
            autoSkip: false,
            maxRotation: 0,
            padding: 10,
            labelOffset: 1.5,
            color: '#111',
            font: { family: FONT, size: 15 },
            callback: function (v) { return String(v); }
          }
        },
        y: {
          min: -p.yMax,
          max: p.yMax,
          afterFit: function (s) { s.width = AXIS_WIDTH; },
          border: { color: AXIS_GREY, width: 1.3 },
          grid: { drawOnChartArea: false, color: AXIS_GREY, tickLength: -3 },
          ticks: {
            stepSize: p.yStep,
            autoSkip: false,
            minRotation: 90,
            maxRotation: 90,
            crossAlign: 'center',
            padding: 9,
            color: '#111',
            font: { family: FONT, size: 15 },
            callback: function (v) { return p.labels.indexOf(v) >= 0 ? String(v) : ''; }
          }
        }
      }
    }
  });
});
</script>
</body>
</html>
